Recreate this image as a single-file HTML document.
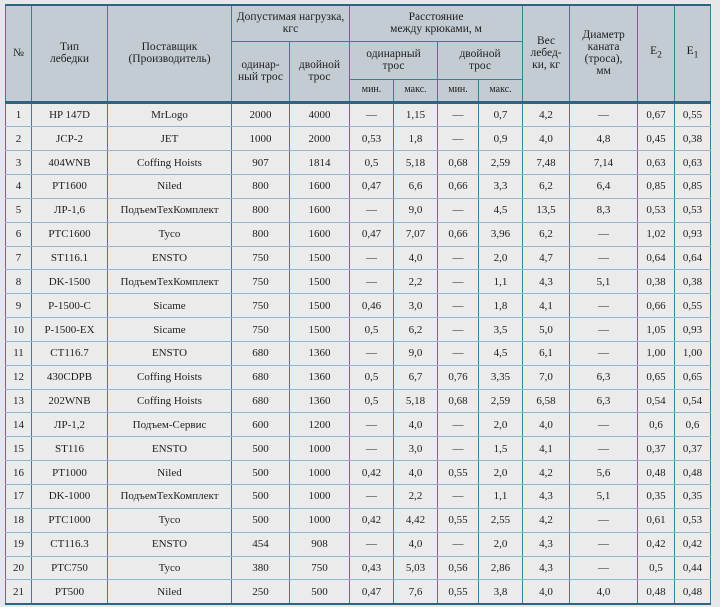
<!DOCTYPE html>
<html><head><meta charset="utf-8"><style>
body{margin:0;background:#e6e7e8;width:720px;height:607px;overflow:hidden;font-family:"Liberation Serif",serif;color:#1e1e1e;}
table{position:absolute;left:5px;top:4px;border-collapse:collapse;table-layout:fixed;width:705px;}
td{padding:0;text-align:center;font-size:11.5px;line-height:12px;border-left:1.5px solid #3d7d9a;border-right:1.5px solid #3d7d9a;}
thead td{background:#c4ccd3;border:1.5px solid #3d7d9a;}
thead tr.t td{border-top:2px solid #2c6482;}
tbody td{height:22.85px;border-bottom:1.5px solid #8fb8cc;background:#ebebeb;font-size:11px;}
tbody tr:first-child td{border-top:3px solid #2c6482;}
tbody tr:last-child td{border-bottom:2px solid #2c6482;}
.s{font-size:10px}
</style></head><body>
<table>
<colgroup><col style="width:26px"><col style="width:76px"><col style="width:124px"><col style="width:58px"><col style="width:60px"><col style="width:44px"><col style="width:44px"><col style="width:41px"><col style="width:44px"><col style="width:47px"><col style="width:68px"><col style="width:37px"><col style="width:36px"></colgroup>
<thead>
<tr class="t" style="height:36px"><td rowspan="3">№</td><td rowspan="3">Тип<br>лебедки</td><td rowspan="3">Поставщик<br>(Производитель)</td><td colspan="2">Допустимая нагрузка,<br>кгс</td><td colspan="4">Расстояние<br>между крюками, м</td><td rowspan="3">Вес<br>лебед-<br>ки, кг</td><td rowspan="3">Диаметр<br>каната<br>(троса),<br>мм</td><td rowspan="3">E<sub>2</sub></td><td rowspan="3">E<sub>1</sub></td></tr>
<tr style="height:38px"><td rowspan="2">одинар-<br>ный трос</td><td rowspan="2">двойной<br>трос</td><td colspan="2">одинарный<br>трос</td><td colspan="2">двойной<br>трос</td></tr>
<tr style="height:23px"><td class="s">мин.</td><td class="s">макс.</td><td class="s">мин.</td><td class="s">макс.</td></tr>
</thead>
<tbody>
<tr><td>1</td><td>HP 147D</td><td>MrLogo</td><td>2000</td><td>4000</td><td>—</td><td>1,15</td><td>—</td><td>0,7</td><td>4,2</td><td>—</td><td>0,67</td><td>0,55</td></tr>
<tr><td>2</td><td>JCP-2</td><td>JET</td><td>1000</td><td>2000</td><td>0,53</td><td>1,8</td><td>—</td><td>0,9</td><td>4,0</td><td>4,8</td><td>0,45</td><td>0,38</td></tr>
<tr><td>3</td><td>404WNB</td><td>Coffing Hoists</td><td>907</td><td>1814</td><td>0,5</td><td>5,18</td><td>0,68</td><td>2,59</td><td>7,48</td><td>7,14</td><td>0,63</td><td>0,63</td></tr>
<tr><td>4</td><td>PT1600</td><td>Niled</td><td>800</td><td>1600</td><td>0,47</td><td>6,6</td><td>0,66</td><td>3,3</td><td>6,2</td><td>6,4</td><td>0,85</td><td>0,85</td></tr>
<tr><td>5</td><td>ЛР-1,6</td><td>ПодъемТехКомплект</td><td>800</td><td>1600</td><td>—</td><td>9,0</td><td>—</td><td>4,5</td><td>13,5</td><td>8,3</td><td>0,53</td><td>0,53</td></tr>
<tr><td>6</td><td>PTC1600</td><td>Tyco</td><td>800</td><td>1600</td><td>0,47</td><td>7,07</td><td>0,66</td><td>3,96</td><td>6,2</td><td>—</td><td>1,02</td><td>0,93</td></tr>
<tr><td>7</td><td>ST116.1</td><td>ENSTO</td><td>750</td><td>1500</td><td>—</td><td>4,0</td><td>—</td><td>2,0</td><td>4,7</td><td>—</td><td>0,64</td><td>0,64</td></tr>
<tr><td>8</td><td>DK-1500</td><td>ПодъемТехКомплект</td><td>750</td><td>1500</td><td>—</td><td>2,2</td><td>—</td><td>1,1</td><td>4,3</td><td>5,1</td><td>0,38</td><td>0,38</td></tr>
<tr><td>9</td><td>P-1500-C</td><td>Sicame</td><td>750</td><td>1500</td><td>0,46</td><td>3,0</td><td>—</td><td>1,8</td><td>4,1</td><td>—</td><td>0,66</td><td>0,55</td></tr>
<tr><td>10</td><td>P-1500-EX</td><td>Sicame</td><td>750</td><td>1500</td><td>0,5</td><td>6,2</td><td>—</td><td>3,5</td><td>5,0</td><td>—</td><td>1,05</td><td>0,93</td></tr>
<tr><td>11</td><td>CT116.7</td><td>ENSTO</td><td>680</td><td>1360</td><td>—</td><td>9,0</td><td>—</td><td>4,5</td><td>6,1</td><td>—</td><td>1,00</td><td>1,00</td></tr>
<tr><td>12</td><td>430CDPB</td><td>Coffing Hoists</td><td>680</td><td>1360</td><td>0,5</td><td>6,7</td><td>0,76</td><td>3,35</td><td>7,0</td><td>6,3</td><td>0,65</td><td>0,65</td></tr>
<tr><td>13</td><td>202WNB</td><td>Coffing Hoists</td><td>680</td><td>1360</td><td>0,5</td><td>5,18</td><td>0,68</td><td>2,59</td><td>6,58</td><td>6,3</td><td>0,54</td><td>0,54</td></tr>
<tr><td>14</td><td>ЛР-1,2</td><td>Подъем-Сервис</td><td>600</td><td>1200</td><td>—</td><td>4,0</td><td>—</td><td>2,0</td><td>4,0</td><td>—</td><td>0,6</td><td>0,6</td></tr>
<tr><td>15</td><td>ST116</td><td>ENSTO</td><td>500</td><td>1000</td><td>—</td><td>3,0</td><td>—</td><td>1,5</td><td>4,1</td><td>—</td><td>0,37</td><td>0,37</td></tr>
<tr><td>16</td><td>PT1000</td><td>Niled</td><td>500</td><td>1000</td><td>0,42</td><td>4,0</td><td>0,55</td><td>2,0</td><td>4,2</td><td>5,6</td><td>0,48</td><td>0,48</td></tr>
<tr><td>17</td><td>DK-1000</td><td>ПодъемТехКомплект</td><td>500</td><td>1000</td><td>—</td><td>2,2</td><td>—</td><td>1,1</td><td>4,3</td><td>5,1</td><td>0,35</td><td>0,35</td></tr>
<tr><td>18</td><td>PTC1000</td><td>Tyco</td><td>500</td><td>1000</td><td>0,42</td><td>4,42</td><td>0,55</td><td>2,55</td><td>4,2</td><td>—</td><td>0,61</td><td>0,53</td></tr>
<tr><td>19</td><td>CT116.3</td><td>ENSTO</td><td>454</td><td>908</td><td>—</td><td>4,0</td><td>—</td><td>2,0</td><td>4,3</td><td>—</td><td>0,42</td><td>0,42</td></tr>
<tr><td>20</td><td>PTC750</td><td>Tyco</td><td>380</td><td>750</td><td>0,43</td><td>5,03</td><td>0,56</td><td>2,86</td><td>4,3</td><td>—</td><td>0,5</td><td>0,44</td></tr>
<tr><td>21</td><td>PT500</td><td>Niled</td><td>250</td><td>500</td><td>0,47</td><td>7,6</td><td>0,55</td><td>3,8</td><td>4,0</td><td>4,0</td><td>0,48</td><td>0,48</td></tr>
</tbody></table>
</body></html>
